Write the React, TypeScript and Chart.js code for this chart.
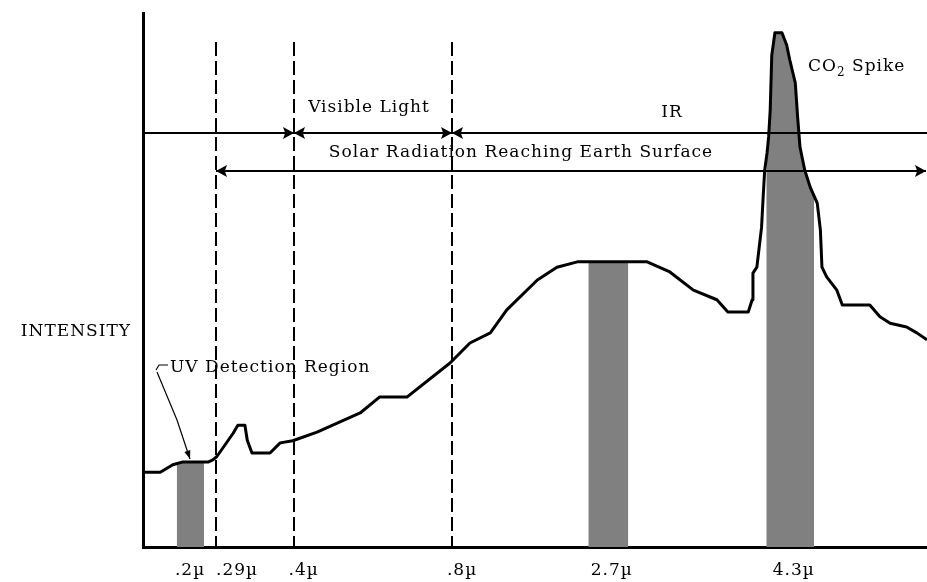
import React, { useEffect, useRef } from 'react';
import { Chart, registerables } from 'chart.js';

Chart.register(...registerables);

// ---- data (arbitrary schematic units: x position 0-100, intensity 0-100) ----
const CURVE_X = [
  0, 2.2, 3.8, 5.0, 8.3, 8.9, 9.4, 11.5, 12.1, 13.0, 13.3, 13.9, 16.2, 17.5, 19.1, 22.2,
  27.7, 30.2, 33.7, 39.2, 41.7, 44.3, 46.4, 50.3, 52.8, 55.4, 64.3, 67.2, 70.2, 73.2,
  74.6, 77.2, 77.7, 77.8, 78.3, 78.9, 79.1, 79.3, 79.6, 79.8, 80.0, 80.2, 80.6, 81.5,
  82.1, 82.5, 83.2, 83.5, 83.8, 84.4, 85.1, 86.0, 86.4, 86.6, 87.2, 88.5, 89.2, 92.7,
  94.0, 95.3, 97.4, 98.7, 100,
];
const CURVE_Y = [
  14.0, 14.0, 15.4, 15.9, 15.9, 16.3, 16.9, 21.3, 22.8, 22.8, 20.0, 17.6, 17.6, 19.5, 19.9, 21.5,
  25.1, 28.1, 28.1, 34.5, 38.2, 40.1, 44.4, 50.0, 52.4, 53.4, 53.4, 51.5, 48.1, 46.3,
  44.0, 44.0, 46.3, 51.3, 52.4, 59.9, 65.5, 70.6, 73.8, 76.8, 81.8, 92.1, 96.3, 96.3,
  94.0, 91.2, 86.9, 80.5, 74.9, 70.6, 67.4, 64.4, 59.4, 52.4, 50.6, 48.1, 45.3, 45.3,
  43.1, 41.9, 41.2, 40.1, 38.8,
];

// shaded detection bands (portion of the curve that is filled)
const BAND_UV_X = [4.3, 5.0, 7.8];
const BAND_UV_Y = [15.7, 15.9, 15.9];
const BAND_27_X = [56.8, 61.9];
const BAND_27_Y = [53.4, 53.4];
const BAND_43_X = [79.5, 79.6, 79.8, 80.0, 80.2, 80.6, 81.5, 82.1, 82.5, 83.2, 83.5, 83.8, 84.4, 85.1, 85.6];
const BAND_43_Y = [72.5, 73.8, 76.8, 81.8, 92.1, 96.3, 96.3, 94.0, 91.2, 86.9, 80.5, 74.9, 70.6, 67.4, 65.7];

const TICK_POS = [6.0, 12.0, 20.5, 40.7, 59.8, 83.0];
const TICK_LABELS = ['.2\u00b5', '.29\u00b5', '.4\u00b5', '.8\u00b5', '2.7\u00b5', '4.3\u00b5'];

const DIVIDERS = [9.3, 19.3, 39.4];
const DIVIDER_TOP = 94.6;
const RANGE_LINE_Y = 77.5;
const SOLAR_LINE_Y = 70.4;

const LABEL_VISIBLE = { text: 'Visible Light', x: 28.8, y: 82.2 };
const LABEL_IR = { text: 'IR', x: 67.5, y: 81.3 };
const LABEL_SOLAR = { text: 'Solar Radiation Reaching Earth Surface', x: 48.2, y: 73.8 };
const LABEL_CO2 = { x: 84.8, y: 89.9 };
const LABEL_UV = { text: 'UV Detection Region', x: 3.4, y: 33.5 };
const LABEL_INTENSITY = { text: 'INTENSITY', y: 40.3 };
const UV_HOOK_X = [1.7, 2.0, 3.2];
const UV_HOOK_Y = [33.1, 34.1, 34.1];
const UV_POINTER_X = [1.8, 4.3, 6.0];
const UV_POINTER_Y = [32.8, 23.8, 16.5];

const FONT = '"DejaVu Serif", serif';
const FS = 17;

const pts = (xs: number[], ys: number[]) => xs.map((x, i) => ({ x, y: ys[i] }));

function tri(ctx: CanvasRenderingContext2D, tx: number, ty: number, dir: number, len = 11, half = 6) {
  ctx.beginPath();
  ctx.moveTo(tx, ty);
  ctx.lineTo(tx - dir * len, ty - half);
  ctx.lineTo(tx - dir * len * 0.8, ty);
  ctx.lineTo(tx - dir * len, ty + half);
  ctx.closePath();
  ctx.fill();
}

const spacing = {
  id: 'spacing',
  beforeDraw(chart: any) {
    (chart.ctx as any).letterSpacing = '1px';
  },
};

const annotations = {
  id: 'annotations',
  afterDatasetsDraw(chart: any) {
    const { ctx, chartArea } = chart;
    const xs = chart.scales.x;
    const ys = chart.scales.y;
    const px = (v: number) => Math.round(xs.getPixelForValue(v));
    const py = (v: number) => Math.round(ys.getPixelForValue(v));
    ctx.save();
    (ctx as any).letterSpacing = '1px';
    ctx.strokeStyle = '#000';
    ctx.fillStyle = '#000';

    // dashed dividers
    ctx.lineWidth = 2;
    ctx.setLineDash([14, 5]);
    DIVIDERS.forEach((d) => {
      ctx.beginPath();
      ctx.moveTo(px(d), py(DIVIDER_TOP));
      ctx.lineTo(px(d), chartArea.bottom);
      ctx.stroke();
    });
    ctx.setLineDash([]);

    // range line (UV | Visible | IR)
    const y1 = py(RANGE_LINE_Y);
    ctx.beginPath();
    ctx.moveTo(chartArea.left, y1);
    ctx.lineTo(chartArea.right, y1);
    ctx.stroke();
    [DIVIDERS[1], DIVIDERS[2]].forEach((d) => {
      tri(ctx, px(d), y1, 1);
      tri(ctx, px(d), y1, -1);
    });

    // solar radiation line
    const y2 = py(SOLAR_LINE_Y);
    const xl = px(DIVIDERS[0]);
    const xr = chartArea.right - 1;
    ctx.beginPath();
    ctx.moveTo(xl, y2);
    ctx.lineTo(xr, y2);
    ctx.stroke();
    tri(ctx, xl, y2, -1);
    tri(ctx, xr, y2, 1);

    // texts
    ctx.textBaseline = 'middle';
    ctx.font = `${FS}px ${FONT}`;
    ctx.textAlign = 'center';
    ctx.fillText(LABEL_VISIBLE.text, px(LABEL_VISIBLE.x), py(LABEL_VISIBLE.y));
    ctx.fillText(LABEL_IR.text, px(LABEL_IR.x), py(LABEL_IR.y));
    ctx.fillText(LABEL_SOLAR.text, px(LABEL_SOLAR.x), py(LABEL_SOLAR.y));

    ctx.textAlign = 'left';
    ctx.fillText(LABEL_UV.text, px(LABEL_UV.x), py(LABEL_UV.y));

    // CO2 Spike
    let cx = px(LABEL_CO2.x);
    const cy = py(LABEL_CO2.y);
    ctx.fillText('CO', cx, cy);
    cx += ctx.measureText('CO').width;
    ctx.font = `12px ${FONT}`;
    ctx.fillText('2', cx, cy + 6);
    cx += ctx.measureText('2').width;
    ctx.font = `${FS}px ${FONT}`;
    ctx.fillText(' Spike', cx, cy);

    // INTENSITY
    ctx.textAlign = 'right';
    ctx.fillText(LABEL_INTENSITY.text, chartArea.left - 12, py(LABEL_INTENSITY.y));

    // UV pointer
    ctx.lineWidth = 1.2;
    ctx.beginPath();
    UV_HOOK_X.forEach((v, i) => {
      const X = px(v), Y = py(UV_HOOK_Y[i]);
      if (i === 0) ctx.moveTo(X, Y); else ctx.lineTo(X, Y);
    });
    ctx.stroke();
    ctx.beginPath();
    UV_POINTER_X.forEach((v, i) => {
      const X = px(v), Y = py(UV_POINTER_Y[i]);
      if (i === 0) ctx.moveTo(X, Y); else ctx.lineTo(X, Y);
    });
    ctx.stroke();
    // arrow head
    const n = UV_POINTER_X.length;
    const tx = xs.getPixelForValue(UV_POINTER_X[n - 1]);
    const ty = ys.getPixelForValue(UV_POINTER_Y[n - 1]);
    const fx = xs.getPixelForValue(UV_POINTER_X[n - 2]);
    const fy = ys.getPixelForValue(UV_POINTER_Y[n - 2]);
    const ang = Math.atan2(ty - fy, tx - fx);
    ctx.beginPath();
    ctx.moveTo(tx, ty);
    ctx.lineTo(tx - 9 * Math.cos(ang - 0.35), ty - 9 * Math.sin(ang - 0.35));
    ctx.lineTo(tx - 9 * Math.cos(ang + 0.35), ty - 9 * Math.sin(ang + 0.35));
    ctx.closePath();
    ctx.fill();

    ctx.restore();
  },
};

export default function App() {
  const ref = useRef<HTMLCanvasElement | null>(null);
  useEffect(() => {
    if (!ref.current) return;
    const band = (xs: number[], ys: number[]) => ({
      data: pts(xs, ys),
      borderWidth: 0,
      borderColor: 'rgba(0,0,0,0)',
      backgroundColor: '#808080',
      fill: 'origin',
      pointRadius: 0,
      tension: 0,
    });
    const chart = new Chart(ref.current, {
      type: 'line',
      data: {
        datasets: [
          {
            data: pts(CURVE_X, CURVE_Y),
            borderColor: '#000',
            borderWidth: 3,
            pointRadius: 0,
            tension: 0,
            fill: false,
            borderJoinStyle: 'round',
          } as any,
          band(BAND_UV_X, BAND_UV_Y),
          band(BAND_27_X, BAND_27_Y),
          band(BAND_43_X, BAND_43_Y),
        ],
      },
      options: {
        animation: false,
        responsive: false,
        events: [],
        layout: { padding: { top: 13, right: 0, left: 0, bottom: 0 } },
        plugins: { legend: { display: false }, tooltip: { enabled: false } },
        scales: {
          x: {
            type: 'linear',
            min: 0,
            max: 100,
            grid: { display: false, drawTicks: false },
            border: { display: true, color: '#000', width: 3 },
            afterBuildTicks: (s: any) => {
              s.ticks = TICK_POS.map((v) => ({ value: v }));
            },
            afterFit: (s: any) => {
              s.height = 35;
            },
            ticks: {
              autoSkip: false,
              maxRotation: 0,
              padding: 13,
              color: '#000',
              font: { family: FONT, size: FS },
              callback: (_v: any, i: number) => TICK_LABELS[i],
            },
          },
          y: {
            type: 'linear',
            min: 0,
            max: 100,
            grid: { display: false, drawTicks: false },
            border: { display: true, color: '#000', width: 3 },
            ticks: { display: false },
            afterFit: (s: any) => {
              s.width = 143;
            },
          },
        },
      },
      plugins: [spacing, annotations],
    });
    return () => chart.destroy();
  }, []);
  return (
    <div style={{ position: 'fixed', left: 0, top: 0, width: 927, height: 582, background: '#fff' }}>
      <canvas ref={ref} width={927} height={582} />
    </div>
  );
}
